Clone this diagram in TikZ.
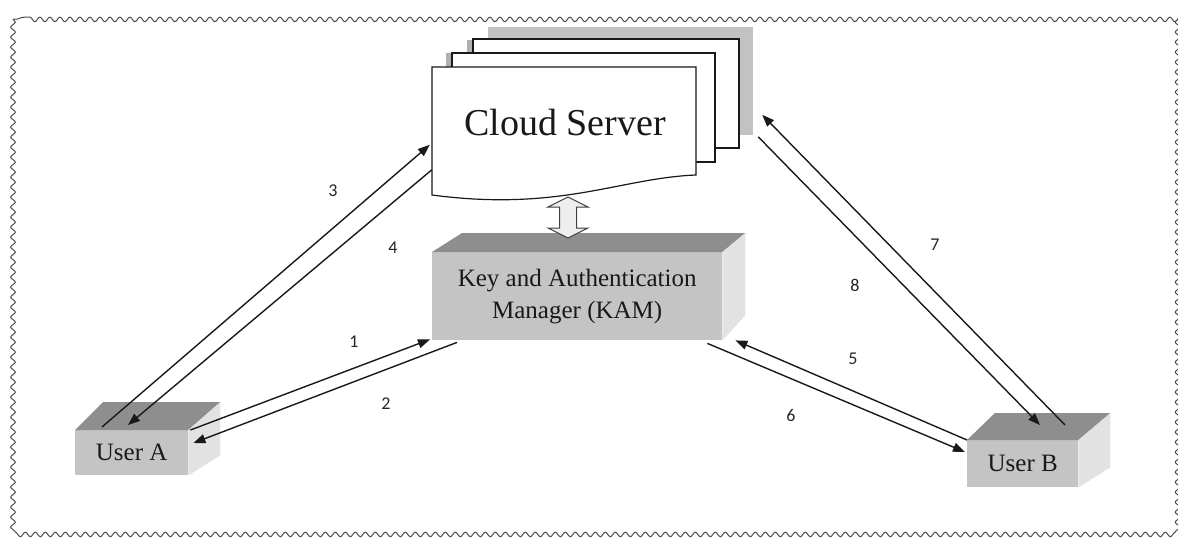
\documentclass[tikz,border=0pt]{standalone}
\usepackage{fontspec}
\setmainfont{Liberation Serif}
\newfontfamily\labelfont{Carlito}
\usetikzlibrary{arrows.meta,calc,decorations.pathmorphing}
\definecolor{topgray}{HTML}{8E8E8E}
\definecolor{frontgray}{HTML}{C4C4C4}
\definecolor{sidegray}{HTML}{E2E2E2}
\definecolor{backgray}{HTML}{C2C2C2}
\definecolor{shadowgray}{HTML}{B0B0B0}
\definecolor{hollow}{HTML}{EEEEEE}
\begin{document}
\begin{tikzpicture}[x=1pt,y=-1pt,
  conn/.style={draw=black!90, line width=1.4pt, -{Triangle[length=12pt,width=9pt]}},
  facebox/.style={fill=frontgray, draw=none, inner sep=0pt, anchor=north west,
    font=\fontsize{25}{32}\selectfont, text=black!90, align=center},
  lbl/.style={font=\labelfont\fontsize{18}{20}\selectfont, text=black!85, inner sep=0pt},
  page/.style={draw=black!90, line width=1.2pt, fill=white},
  frame/.style={decorate, decoration={snake, segment length=10pt, amplitude=2.3pt},
    draw=black!70, line width=1pt}]
\useasboundingbox (0,0) rectangle (1178,538);
\draw[frame] (13,19) rectangle (1173,532);

% cloud server stack
\fill[backgray] (488,27) rectangle (753,135);
\fill[shadowgray] (467,40) rectangle (473,52);
\draw[page] (473,39) rectangle (739,148);
\fill[shadowgray] (446,53) rectangle (452,67);
\draw[page] (452,53) rectangle (715,162);
\draw[page] (432,67) -- (696,67) -- (696,175)
  .. controls (620,178) and (560,212) .. (432,195) -- cycle;
\node[inner sep=0pt, minimum width=264pt, minimum height=128pt] (cloud) at (564,131) {};
\node[font=\fontsize{38}{40}\selectfont, text=black!90, inner sep=0pt] (cloudlabel)
  at ($(cloud.center)+(1,-8)$) {Cloud Server};

% KAM box
\node[facebox, minimum width=290pt, minimum height=88pt] (kam) at (432,252)
  {Key and Authentication\\Manager (KAM)};
\fill[topgray] (kam.north west) -- (kam.north east) -- ($(kam.north east)+(23,-19)$)
  -- ($(kam.north west)+(30,-19)$) -- cycle;
\fill[sidegray] (kam.north east) -- ($(kam.north east)+(23,-19)$)
  -- ($(kam.south east)+(23,-25)$) -- (kam.south east) -- cycle;

% User A
\node[facebox, minimum width=113pt, minimum height=45pt] (ua) at (75,430) {User A};
\fill[topgray] (ua.north west) -- (ua.north east) -- ($(ua.north east)+(32,-28)$)
  -- ($(ua.north west)+(28,-28)$) -- cycle;
\fill[sidegray] (ua.north east) -- ($(ua.north east)+(32,-28)$)
  -- ($(ua.south east)+(32,-20)$) -- (ua.south east) -- cycle;

% User B
\node[facebox, minimum width=111pt, minimum height=47pt] (ub) at (967,440) {User B};
\fill[topgray] (ub.north west) -- (ub.north east) -- ($(ub.north east)+(32,-27)$)
  -- ($(ub.north west)+(28,-27)$) -- cycle;
\fill[sidegray] (ub.north east) -- ($(ub.north east)+(32,-27)$)
  -- ($(ub.south east)+(32,-20)$) -- (ub.south east) -- cycle;

% hollow double arrow between cloud and KAM
\coordinate (dtop) at (568,197);
\coordinate (dbot) at (568,238);
\draw[fill=hollow, draw=black!75, line width=1pt]
  (dtop) -- ($(dtop)+(20,10)$) -- ($(dtop)+(8.5,10)$) -- ($(dbot)+(8.5,-10)$)
  -- ($(dbot)+(20,-10)$) -- (dbot) -- ($(dbot)+(-20,-10)$) -- ($(dbot)+(-8.5,-10)$)
  -- ($(dtop)+(-8.5,10)$) -- ($(dtop)+(-20,10)$) -- cycle;

% connectors
\draw[conn] ($(ua.north east)+(2,0)$) -- ($(kam.south west)+(-2,-1)$);      % 1
\draw[conn] ($(kam.south west)+(25,2)$) -- ($(ua.north east)+(5,13)$);      % 2
\draw[conn] ($(ua.north west)+(27,-3)$) -- ($(cloud.north west)+(-2,78)$);  % 3
\draw[conn] ($(cloud.north west)+(0,103)$) -- ($(ua.north west)+(53,-5)$);  % 4
\draw[conn] (ub.north west) -- ($(kam.south east)+(13,0)$);                  % 5
\draw[conn] ($(kam.south east)+(-15,3)$) -- ($(ub.north west)+(-2,12)$);    % 6
\draw[conn] ($(ub.north west)+(98,-15)$) -- ($(cloud.north east)+(66,48)$); % 7
\draw[conn] ($(cloud.north east)+(62,70)$) -- ($(ub.north west)+(73,-15)$); % 8

% labels
\node[lbl] (l1) at (354,342) {1};
\node[lbl] (l2) at (386,404) {2};
\node[lbl] (l3) at (333,191) {3};
\node[lbl] (l4) at (393,248) {4};
\node[lbl] (l5) at (853,359) {5};
\node[lbl] (l6) at (791,415) {6};
\node[lbl] (l7) at (935,245) {7};
\node[lbl] (l8) at (855,285) {8};
\end{tikzpicture}
\end{document}
